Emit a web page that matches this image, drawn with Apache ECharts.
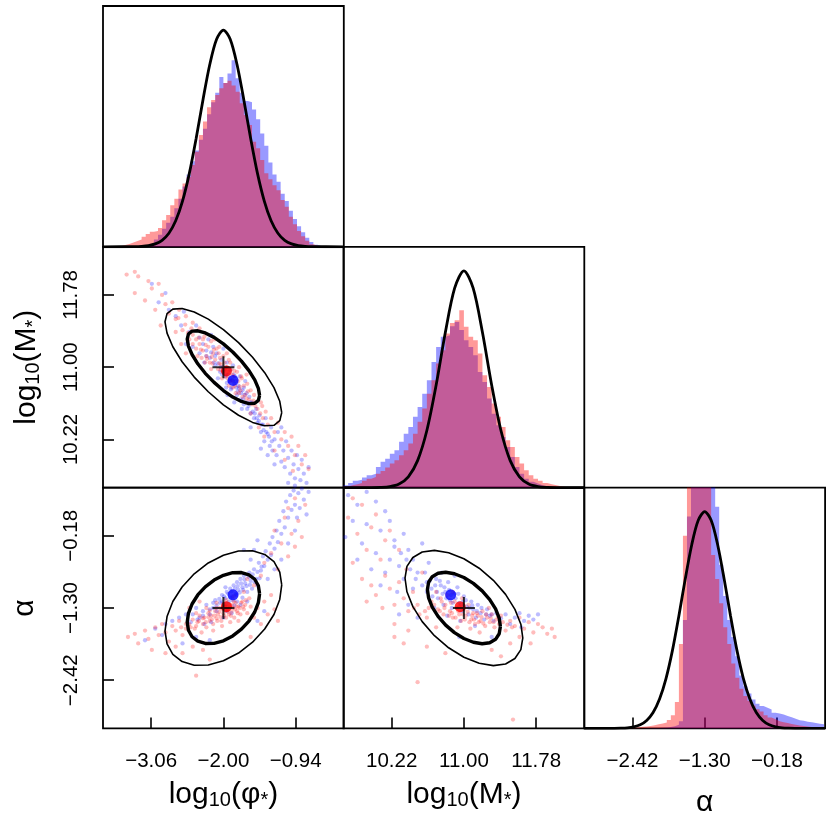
<!DOCTYPE html>
<html>
<head>
<meta charset="utf-8">
<title>Corner plot</title>
<script src="https://cdn.jsdelivr.net/npm/echarts@6/dist/echarts.min.js"></script>
<style>
  html, body { margin: 0; padding: 0; background: #fff; }
  #chart { width: 830px; height: 830px; }
</style>
</head>
<body>
<div id="chart"></div>
<script>
// ---- axes: ranges, ticks, labels ----
var phiRange = [-3.7667, -0.2333];
var mRange = [9.7, 12.3];
var aRange = [-3.1667, 0.5667];
var phiTicks = [-3.06, -2.00, -0.94];
var phiTickLabels = ['−3.06', '−2.00', '−0.94'];
var mTicks = [10.22, 11.00, 11.78];
var mTickLabels = ['10.22', '11.00', '11.78'];
var aTicks = [-2.42, -1.30, -0.18];
var aTickLabels = ['−2.42', '−1.30', '−0.18'];

// ---- histograms (height in % of panel), bins: start, width ----
var phiBins = [-3.56, 0.06];
var phiHistRed = [0.3,0.7,1.2,1.8,2.4,3.0,4.2,5.3,6.2,6.6,7.8,11,13.2,17.3,20,23.8,26.3,29,34,39.5,46.4,52,58,61,63,65.8,68,69,67,64.4,59.6,54.7,50.6,43.6,40.9,36,30.5,28.1,25.6,23.5,19.4,16.6,12.5,9.4,6.6,4.4,2.5,1.1,0.4,0.1];
var phiHistBlue = [0,0,0,0.1,0.2,0.4,0.6,1.0,1.6,3,5,7.5,10,12.5,16,20,25,30,35.5,40,44.5,49,55,60,64,70.5,68,72,77.5,70,64,60.5,60,57,53,47,42,35,30,27,22,19,15,11.5,8.5,6,3.8,2,0.8,0.3];

var mBins = [9.70, 0.05];
var mHistRed = [0.5,1,1.4,1.9,2.8,3.7,4.4,5.8,6.9,8.3,10,11.4,13.4,15.5,18.3,22.4,27.3,32.8,39,44.6,51.5,57,64,68.4,69.5,73.7,66.8,62.6,61.2,55.7,46.7,41.8,34.9,29.4,25.2,19.7,16.9,12.7,10,7.2,5.1,3.7,2.8,1.9,1.4,1,0.55,0.3,0.1,0.1];
var mHistBlue = [1,1.9,2.8,3.3,4.2,5.1,5.8,8.6,10.7,12,14.1,15.5,19,22.4,25.2,29.4,33.5,39,44.6,52.2,58.4,62.6,63.3,67,68.8,65.4,61.2,58.4,55,48,43.9,37,30.7,25.9,21,16.9,12.7,8.6,5.8,3.7,2.4,1.7,1,0.6,0.3,0.2,0.1,0.1,0,0];

var aBins = [-2.575, 0.0625];
var aHistRed = [0.1,0.2,0.3,0.5,0.7,0.8,1.0,1.3,1.7,2.0,2.5,3.5,5.5,11,35,80,125,140,135,130,120,105,72,62,52,42,35,27,21,16.5,13.5,11.5,9.5,8,7,5.5,4.5,3.8,3,2.6,2.2,1.8,1.5,1.2,1.0,0.8,0.6,0.5,0.4,0.3];
var aHistBlue = [0,0,0,0,0,0.1,0.1,0.2,0.2,0.3,0.4,0.6,0.9,1.5,3,45,88,130,140,140,135,125,105,92,68,55,45,38,30,22,17.5,14.5,12,10.2,9.3,8.6,7.8,6.5,6.2,5.8,5.1,4.6,4.0,3.4,3.2,2.8,2.6,2.2,1.9,1.7];

// ---- black model curves on the histograms ----
var phiCurveX = [-3.7667,-3.3,-3.2,-3.1,-3.0,-2.9,-2.8,-2.7,-2.6,-2.5,-2.4,-2.3,-2.2,-2.1,-2.0,-1.9,-1.8,-1.7,-1.6,-1.5,-1.4,-1.3,-1.2,-1.1,-1.0,-0.9,-0.8,-0.7,-0.2333];
var phiCurveY = [0,0.06,0.18,0.48,1.2,2.7,5.65,10.8,19,30.5,45,61,75.7,86.2,90,86.2,75.7,61,45,30.5,19,10.8,5.65,2.7,1.2,0.48,0.18,0.06,0];
var mCurveX = [9.7,10.0,10.1,10.2,10.3,10.4,10.5,10.6,10.7,10.8,10.9,11.0,11.1,11.2,11.3,11.4,11.5,11.6,11.7,11.8,11.9,12.0,12.3];
var mCurveY = [0,0.02,0.1,0.44,1.52,4.5,11.2,23.7,42.5,64.5,82.8,90,82.8,64.5,42.5,23.7,11.2,4.5,1.52,0.44,0.1,0.02,0];
var aCurveX = [-3.1667,-2.7,-2.6,-2.5,-2.4,-2.3,-2.2,-2.1,-2.0,-1.9,-1.8,-1.7,-1.6,-1.5,-1.4,-1.3,-1.2,-1.1,-1.0,-0.9,-0.8,-0.7,-0.6,-0.5,-0.4,-0.3,-0.2,-0.1,0.0,0.1,0.5667];
var aCurveY = [0,0.03,0.09,0.25,0.65,1.5,3.3,6.6,12.2,20.7,32.4,46.8,62.3,76.4,86.4,90,86.4,76.4,62.3,46.8,32.4,20.7,12.2,6.6,3.3,1.5,0.65,0.25,0.09,0.03,0];

// ---- contour ellipses ----
var phiMInner = [[-1.469,10.696],[-1.487,10.772],[-1.540,10.863],[-1.625,10.963],[-1.735,11.066],[-1.863,11.164],[-2.000,11.252],[-2.137,11.322],[-2.266,11.370],[-2.376,11.393],[-2.460,11.389],[-2.513,11.358],[-2.531,11.304],[-2.513,11.228],[-2.460,11.137],[-2.376,11.037],[-2.266,10.934],[-2.137,10.836],[-2.000,10.748],[-1.863,10.678],[-1.735,10.630],[-1.625,10.607],[-1.540,10.611],[-1.487,10.642],[-1.469,10.696]];
var phiMOuter = [[-1.144,10.510],[-1.173,10.632],[-1.258,10.779],[-1.394,10.941],[-1.572,11.107],[-1.778,11.265],[-2.000,11.406],[-2.222,11.519],[-2.428,11.596],[-2.606,11.633],[-2.742,11.627],[-2.827,11.578],[-2.857,11.490],[-2.827,11.368],[-2.742,11.221],[-2.606,11.059],[-2.428,10.893],[-2.222,10.735],[-2.000,10.594],[-1.778,10.481],[-1.572,10.404],[-1.394,10.367],[-1.258,10.373],[-1.173,10.422],[-1.144,10.510]];
var phiAInner = [[-1.469,-1.079],[-1.487,-0.955],[-1.540,-0.854],[-1.625,-0.785],[-1.735,-0.750],[-1.863,-0.753],[-2.000,-0.793],[-2.137,-0.867],[-2.266,-0.971],[-2.376,-1.098],[-2.460,-1.238],[-2.513,-1.383],[-2.531,-1.522],[-2.513,-1.645],[-2.460,-1.746],[-2.376,-1.815],[-2.266,-1.850],[-2.137,-1.848],[-2.000,-1.808],[-1.863,-1.733],[-1.735,-1.629],[-1.625,-1.502],[-1.540,-1.362],[-1.487,-1.217],[-1.469,-1.079]];
var phiAOuter = [[-1.144,-0.943],[-1.173,-0.743],[-1.258,-0.581],[-1.394,-0.469],[-1.572,-0.412],[-1.778,-0.417],[-2.000,-0.481],[-2.222,-0.602],[-2.428,-0.770],[-2.606,-0.974],[-2.742,-1.200],[-2.827,-1.433],[-2.857,-1.657],[-2.827,-1.857],[-2.742,-2.019],[-2.606,-2.131],[-2.428,-2.188],[-2.222,-2.183],[-2.000,-2.119],[-1.778,-1.998],[-1.572,-1.830],[-1.394,-1.626],[-1.258,-1.400],[-1.173,-1.167],[-1.144,-0.943]];
var mAInner = [[11.394,-1.588],[11.381,-1.456],[11.342,-1.313],[11.279,-1.169],[11.197,-1.034],[11.102,-0.918],[11.000,-0.827],[10.898,-0.769],[10.803,-0.746],[10.721,-0.762],[10.658,-0.814],[10.619,-0.900],[10.606,-1.012],[10.619,-1.144],[10.658,-1.287],[10.721,-1.431],[10.803,-1.566],[10.898,-1.682],[11.000,-1.773],[11.102,-1.831],[11.197,-1.854],[11.279,-1.838],[11.342,-1.786],[11.381,-1.700],[11.394,-1.588]];
var mAOuter = [[11.636,-1.765],[11.615,-1.551],[11.551,-1.321],[11.450,-1.089],[11.318,-0.871],[11.165,-0.683],[11.000,-0.537],[10.835,-0.443],[10.682,-0.407],[10.550,-0.432],[10.449,-0.516],[10.385,-0.654],[10.364,-0.835],[10.385,-1.049],[10.449,-1.279],[10.550,-1.511],[10.682,-1.729],[10.835,-1.917],[11.000,-2.063],[11.165,-2.157],[11.318,-2.193],[11.450,-2.168],[11.551,-2.084],[11.615,-1.946],[11.636,-1.765]];

// ---- markers: true value (cross), red and blue means  [phi, M, alpha] ----
var truth = [-2.00, 11.00, -1.30];
var redMean = [-1.955, 10.96, -1.28];
var blueMean = [-1.858, 10.857, -1.095];

// ---- sample clouds ----
var phiMRed = [[-3.42,12.00],[-3.30,12.03],[-3.25,11.98],[-3.10,11.93],[-3.05,11.85],[-3.30,11.80],[-3.15,11.72],[-2.95,11.90],[-2.90,11.78],[-2.85,11.68],[-3.00,11.62],[-2.80,11.58],[-2.75,11.70],[-2.70,11.52],[-2.92,11.45],[-2.65,11.62],
  [-2.60,11.40],[-2.55,11.55],[-2.50,11.30],[-2.45,11.48],[-2.62,11.25],[-2.40,11.20],[-2.35,11.42],[-2.55,11.15],[-2.30,11.30],[-2.70,11.38],
  [-2.40,11.30],[-2.35,11.25],[-2.30,11.18],[-2.28,11.33],[-2.25,11.12],[-2.22,11.22],[-2.20,11.05],[-2.18,11.28],[-2.15,11.15],[-2.12,11.08],[-2.10,11.20],[-2.08,10.98],[-2.05,11.10],[-2.03,11.03],[-2.00,10.95],[-2.00,11.12],[-1.98,11.05],[-1.96,10.90],[-1.95,11.00],[-1.93,10.95],[-1.90,10.85],[-1.90,11.05],[-1.88,10.98],[-1.85,10.90],[-1.83,10.80],[-1.80,10.95],[-1.78,10.85],[-1.75,10.75],[-1.73,10.88],[-1.70,10.80],[-1.68,10.70],[-1.65,10.82],[-1.62,10.65],[-1.60,10.75],[-1.58,10.60],[-2.32,11.10],[-2.18,10.98],[-2.06,11.22],[-1.95,11.15],[-1.86,10.78],[-1.72,10.68],[-2.45,11.35],[-2.38,11.12],[-2.27,11.05],[-2.13,11.30],[-2.02,10.88],[-1.92,10.80],[-1.82,10.72],[-1.77,11.00],[-1.66,10.92],
  [-2.45,11.25],[-2.47,11.42],[-2.36,11.32],[-2.33,11.19],[-2.26,11.24],[-2.24,11.09],[-2.16,11.04],[-2.14,11.19],[-2.17,11.11],[-2.06,11.04],[-2.04,10.97],[-2.07,11.15],[-1.97,10.98],[-1.94,10.88],[-1.92,11.08],[-1.86,10.85],[-1.84,10.96],[-1.87,10.92],[-1.76,10.79],[-1.74,10.90],[-1.77,10.72],[-1.64,10.74],[-1.66,10.66],[-1.56,10.64],[-1.53,10.58],[-1.46,10.50],[-1.43,10.58],[-2.56,11.46],[-2.52,11.37],[-2.66,11.53],
  [-1.55,10.70],[-1.50,10.55],[-1.45,10.62],[-1.42,10.45],[-1.38,10.52],[-1.35,10.38],[-1.30,10.45],[-1.25,10.30],[-1.20,10.40],[-1.15,10.22],[-1.10,10.30],[-1.05,10.15],[-1.00,10.25],[-0.95,10.05],[-0.90,10.15],[-0.85,9.95],[-0.80,10.05],[-0.75,9.90],[-1.25,10.10],[-1.10,10.00],[-0.98,9.88],[-1.40,10.25],[-1.60,10.50],[-1.48,10.35]];
var phiMBlue = [[-3.05,11.90],[-2.95,11.70],[-2.80,11.62],[-2.70,11.55],[-2.85,11.80],[-2.62,11.45],[-2.58,11.60],
  [-2.50,11.38],[-2.45,11.22],[-2.40,11.45],[-2.55,11.25],[-2.35,11.32],
  [-2.30,11.25],[-2.25,11.18],[-2.22,11.30],[-2.20,11.10],[-2.15,11.22],[-2.12,11.02],[-2.10,11.15],[-2.05,10.95],[-2.03,11.08],[-2.00,11.00],[-1.98,10.90],[-1.95,11.05],[-1.92,10.85],[-1.90,10.97],[-1.88,10.78],[-1.85,10.92],[-1.82,10.85],[-1.80,10.70],[-1.78,10.80],[-1.75,10.65],[-1.72,10.75],[-1.70,10.60],[-1.68,10.85],[-1.65,10.55],[-1.62,10.68],[-1.60,10.50],[-1.58,10.62],[-1.55,10.45],[-2.35,11.15],[-2.08,10.88],[-1.96,10.78],[-1.84,10.62],[-1.73,10.55],[-2.18,11.35],[-2.00,11.20],[-1.86,11.02],[-1.76,10.90],[-1.66,10.72],[-2.28,11.05],[-1.94,10.70],
  [-2.25,11.12],[-2.18,11.16],[-2.12,11.12],[-2.08,11.04],[-2.04,11.00],[-1.99,10.96],[-1.96,10.92],[-1.93,10.92],[-1.90,10.88],[-1.87,10.86],[-1.84,10.82],[-1.81,10.78],[-1.79,10.74],[-1.77,10.77],[-1.74,10.72],[-1.71,10.66],[-1.69,10.70],[-1.66,10.62],[-1.63,10.58],[-1.61,10.62],[-1.57,10.52],[-1.54,10.50],[-1.51,10.45],[-1.48,10.42],[-1.44,10.38],[-1.41,10.32],[-1.37,10.30],[-1.33,10.25],[-1.29,10.20],[-1.95,10.83],[-2.02,10.92],[-1.89,10.76],[-1.83,10.90],[-2.14,11.05],[-1.70,10.78],
  [-1.52,10.55],[-1.50,10.40],[-1.47,10.48],[-1.45,10.30],[-1.42,10.38],[-1.40,10.20],[-1.38,10.45],[-1.35,10.28],[-1.32,10.15],[-1.30,10.35],[-1.28,10.10],[-1.25,10.22],[-1.22,10.05],[-1.20,10.30],[-1.18,10.15],[-1.15,9.98],[-1.12,10.10],[-1.10,9.92],[-1.08,10.20],[-1.05,10.02],[-1.02,9.85],[-1.00,10.10],[-0.97,9.95],[-0.95,9.80],[-0.92,10.05],[-0.90,9.90],[-0.87,9.78],[-0.85,10.00],[-0.82,9.85],[-0.78,9.75],[-0.75,9.92],[-1.35,10.05],[-1.15,10.35],[-1.45,10.12],[-1.60,10.35],[-1.25,9.95],[-1.05,9.75],[-0.95,9.72]];

var phiARed = [[-3.40,-1.75],[-3.30,-1.70],[-3.25,-1.85],[-3.15,-1.65],[-3.10,-1.78],[-3.00,-1.60],[-2.95,-1.72],[-2.90,-1.55],[-2.85,-1.68],[-2.80,-1.82],[-2.75,-1.58],[-2.70,-1.65],[-2.65,-1.50],[-2.60,-1.72],[-2.55,-1.55],[-3.05,-1.95],[-2.85,-2.00],[-2.70,-1.90],
  [-2.50,-1.55],[-2.45,-1.48],[-2.42,-1.62],[-2.38,-1.52],[-2.35,-1.42],[-2.30,-1.55],[-2.28,-1.45],[-2.25,-1.60],[-2.22,-1.38],[-2.20,-1.50],[-2.18,-1.42],[-2.15,-1.55],[-2.12,-1.35],[-2.10,-1.46],[-2.08,-1.40],[-2.05,-1.30],[-2.03,-1.50],[-2.00,-1.38],[-1.98,-1.28],[-1.96,-1.45],[-1.94,-1.33],[-1.92,-1.40],[-1.90,-1.25],[-1.88,-1.36],[-1.86,-1.30],[-1.84,-1.45],[-1.82,-1.22],[-1.80,-1.35],[-1.78,-1.28],[-1.75,-1.40],[-1.72,-1.20],[-1.70,-1.32],[-1.68,-1.25],[-1.65,-1.38],[-1.62,-1.15],[-1.60,-1.28],[-2.40,-1.38],[-2.32,-1.68],[-2.15,-1.65],[-2.02,-1.58],[-1.90,-1.52],[-1.78,-1.50],[-2.25,-1.30],[-2.10,-1.22],[-1.96,-1.18],[-1.85,-1.12],[-1.70,-1.05],
  [-2.36,-1.50],[-2.30,-1.46],[-2.26,-1.52],[-2.22,-1.44],[-2.17,-1.48],[-2.13,-1.42],[-2.09,-1.50],[-2.06,-1.36],[-2.04,-1.44],[-2.01,-1.32],[-1.99,-1.42],[-1.97,-1.34],[-1.95,-1.28],[-1.93,-1.36],[-1.91,-1.30],[-1.89,-1.42],[-1.87,-1.26],[-1.83,-1.32],[-1.81,-1.28],[-1.79,-1.38],[-1.76,-1.30],[-1.74,-1.22],[-1.71,-1.28],[-1.67,-1.18],[-2.48,-1.60],[-2.55,-1.62],[-2.62,-1.60],[-2.40,-1.58],[-2.20,-1.34],[-2.00,-1.24],[-1.85,-1.20],[-2.10,-1.30],
  [-2.60,-2.00],[-2.45,-1.90],[-2.30,-1.95],[-2.20,-2.10],[-2.50,-1.30],[-2.35,-1.20],[-1.55,-1.45],[-1.50,-1.30],[-1.45,-1.55],[-1.40,-1.20],[-1.35,-1.40],[-1.30,-1.10],[-1.25,-1.32],[-1.20,-1.50],[-1.55,-0.95],[-1.45,-0.80],[-1.65,-0.85],[-2.40,-2.35],[-1.60,-1.75],
  [-1.40,-0.60],[-1.30,-0.45],[-1.20,-0.70],[-1.15,-0.30],[-1.05,-0.50],[-1.00,-0.15],[-0.95,-0.35],[-0.90,0.05],[-0.85,-0.20],[-1.10,0.10],[-0.80,0.30],[-1.25,-0.10],[-0.95,0.40],[-1.05,0.25]];
var phiABlue = [[-3.00,-1.62],[-2.85,-1.55],[-2.75,-1.50],[-2.65,-1.45],[-2.90,-1.72],[-2.55,-1.40],[-3.15,-1.80],
  [-2.45,-1.40],[-2.40,-1.30],[-2.35,-1.45],[-2.30,-1.35],[-2.25,-1.25],[-2.20,-1.40],[-2.15,-1.30],[-2.12,-1.18],[-2.10,-1.35],[-2.05,-1.22],[-2.02,-1.10],[-2.00,-1.28],[-1.97,-1.15],[-1.95,-1.05],[-1.92,-1.20],[-1.90,-1.00],[-1.87,-1.12],[-1.85,-0.95],[-1.82,-1.08],[-1.80,-0.90],[-1.78,-1.02],[-1.75,-0.85],[-1.72,-0.98],[-1.70,-0.80],[-1.68,-0.92],[-1.65,-1.05],[-1.62,-0.75],[-1.60,-0.88],[-1.58,-1.00],[-1.55,-0.70],[-1.52,-0.85],[-1.50,-0.95],[-2.18,-1.52],[-2.00,-1.45],[-1.88,-1.38],[-1.75,-1.25],[-1.65,-1.20],[-2.28,-1.55],[-1.95,-1.35],[-1.80,-1.20],
  [-2.20,-1.32],[-2.15,-1.22],[-2.10,-1.26],[-2.06,-1.16],[-2.02,-1.20],[-1.99,-1.12],[-1.96,-1.24],[-1.93,-1.08],[-1.90,-1.14],[-1.88,-1.04],[-1.86,-1.18],[-1.83,-1.00],[-1.81,-1.10],[-1.79,-0.96],[-1.76,-1.06],[-1.74,-0.92],[-1.71,-1.02],[-1.69,-0.86],[-1.66,-0.96],[-1.63,-0.82],[-1.61,-0.94],[-1.57,-0.78],[-1.54,-0.90],[-1.50,-0.74],[-1.47,-0.84],[-1.44,-0.66],[-2.30,-1.42],[-2.38,-1.48],[-2.48,-1.52],[-1.97,-0.98],[-1.84,-1.26],[-1.72,-1.14],
  [-1.48,-0.60],[-1.45,-0.72],[-1.42,-0.50],[-1.40,-0.65],[-1.38,-0.42],[-1.35,-0.55],[-1.32,-0.30],[-1.30,-0.48],[-1.28,-0.20],[-1.25,-0.38],[-1.22,-0.10],[-1.20,-0.28],[-1.18,0.05],[-1.15,-0.15],[-1.12,0.20],[-1.10,-0.05],[-1.08,0.35],[-1.05,0.10],[-1.02,0.45],[-1.00,0.22],[-0.97,0.52],[-0.95,0.30],[-0.92,0.10],[-0.90,0.48],[-0.88,0.25],[-0.85,0.55],[-0.82,0.38],[-0.78,0.15],[-0.75,0.50],[-1.60,-0.55],[-1.55,-0.40],[-1.50,-0.25],[-1.35,-0.85],[-1.25,-0.70],[-1.15,-0.55],[-1.05,-0.30],[-0.95,-0.10],[-1.70,-0.40],
  [-2.60,-1.85],[-2.40,-1.75],[-2.20,-1.80],[-1.50,-1.50],[-1.40,-1.35]];

var mARed = [[9.80,0.40],[9.75,0.10],[9.90,0.30],[10.05,0.15],[9.85,-0.15],[10.00,-0.05],[10.15,-0.25],[9.95,-0.40],[10.10,-0.55],[10.20,-0.10],[10.30,-0.40],[9.80,-0.60],
  [9.90,-0.85],[10.00,-0.95],[10.05,-1.10],[10.15,-0.80],[10.20,-1.00],[10.25,-1.25],[10.30,-0.90],[10.35,-1.15],[10.40,-1.35],[10.45,-1.05],[10.50,-1.25],[10.55,-0.75],[10.60,-1.45],[10.12,-1.30],[10.38,-0.70],[9.95,-1.20],[10.70,-1.60],[10.40,-1.65],[10.25,-1.55],
  [10.65,-1.20],[10.70,-1.05],[10.72,-1.32],[10.75,-1.15],[10.78,-1.40],[10.80,-1.25],[10.82,-1.10],[10.85,-1.35],[10.88,-1.45],[10.90,-1.20],[10.92,-1.30],[10.95,-1.40],[10.97,-1.50],[11.00,-1.32],[11.02,-1.42],[11.05,-1.25],[11.08,-1.48],[11.10,-1.38],[11.12,-1.55],[11.15,-1.42],[11.18,-1.50],[11.20,-1.35],[11.23,-1.58],[11.25,-1.45],[11.28,-1.52],[11.30,-1.40],[11.33,-1.60],[11.35,-1.48],[11.38,-1.55],[11.40,-1.42],[10.88,-1.05],[10.98,-1.15],[11.07,-1.62],[11.17,-1.68],[11.27,-1.30],[10.93,-1.60],[11.45,-1.65],[11.50,-1.50],
  [10.62,-1.30],[10.68,-1.25],[10.74,-1.35],[10.79,-1.30],[10.84,-1.42],[10.87,-1.38],[10.91,-1.45],[10.94,-1.35],[10.99,-1.40],[11.01,-1.48],[11.04,-1.36],[11.06,-1.52],[11.09,-1.42],[11.11,-1.48],[11.14,-1.38],[11.16,-1.52],[11.19,-1.44],[11.21,-1.54],[11.24,-1.40],[11.29,-1.46],[11.32,-1.52],[11.37,-1.44],[11.42,-1.52],[11.47,-1.56],[11.52,-1.60],[10.95,-1.28],[10.86,-1.22],[10.76,-1.20],[10.58,-1.35],[10.52,-1.40],[10.46,-1.30],
  [11.55,-1.58],[11.60,-1.45],[11.65,-1.62],[11.70,-1.52],[11.75,-1.68],[11.80,-1.55],[11.85,-1.60],[11.90,-1.70],[11.95,-1.62],[11.98,-1.75],[11.60,-1.75],[11.72,-1.85],[11.50,-1.85],
  [10.60,-1.90],[10.80,-2.00],[10.35,-1.85],[11.30,-1.95],[11.40,-2.05],[10.50,-2.45],[11.53,-3.03],[10.25,-1.75]];
var mABlue = [[9.75,0.45],[9.85,0.30],[9.95,0.50],[10.05,0.35],[10.15,0.20],[9.80,0.05],[9.95,0.00],[10.10,-0.10],[10.20,0.05],[10.25,-0.25],[10.35,-0.15],[10.40,-0.40],[9.90,-0.30],[10.05,-0.45],[10.20,-0.55],[10.30,-0.65],[10.45,-0.55],[10.50,-0.75],[10.35,-0.85],[10.15,-0.75],[10.00,-0.70],[9.85,-0.55],[10.55,-0.30],[10.62,-0.60],[10.10,-0.95],[10.28,-1.05],[9.72,-0.20],[10.45,-1.00],[10.60,-0.90],
  [10.65,-1.00],[10.70,-0.85],[10.72,-1.15],[10.75,-0.95],[10.78,-1.25],[10.80,-1.05],[10.83,-0.90],[10.85,-1.18],[10.87,-1.30],[10.90,-1.08],[10.93,-0.98],[10.95,-1.22],[10.98,-1.35],[11.00,-1.12],[11.03,-1.28],[11.05,-1.40],[11.08,-1.20],[11.10,-1.32],[11.13,-1.45],[11.15,-1.25],[11.18,-1.38],[11.22,-1.48],[11.25,-1.32],[11.28,-1.42],[11.32,-1.50],[11.35,-1.38],[11.40,-1.46],[11.45,-1.40],[11.50,-1.55],[10.68,-1.30],[10.82,-1.42],[10.96,-1.50],[11.12,-1.58],[10.76,-0.75],[10.90,-0.80],
  [10.55,-0.95],[10.60,-1.05],[10.63,-0.88],[10.66,-1.12],[10.69,-0.95],[10.71,-1.05],[10.74,-0.88],[10.77,-1.08],[10.79,-0.98],[10.81,-1.15],[10.84,-1.02],[10.86,-1.10],[10.88,-1.22],[10.91,-1.15],[10.94,-1.08],[10.97,-1.25],[10.99,-1.20],[11.02,-1.18],[11.06,-1.30],[11.09,-1.26],[11.14,-1.35],[11.19,-1.30],[11.24,-1.40],[11.30,-1.40],[10.48,-0.85],[10.42,-0.70],[10.38,-0.55],[10.32,-0.45],[10.25,-0.35],[10.58,-0.75],
  [11.55,-1.45],[11.60,-1.38],[11.65,-1.50],[11.70,-1.42],[11.75,-1.48],[11.62,-1.60],[11.80,-1.40],
  [10.50,-1.45],[10.40,-1.25],[10.95,-1.75],[11.30,-1.75],[10.30,-1.40]];

// ---- layout ----
var FONT = "'Liberation Sans', Arial, Helvetica, sans-serif";
var colLeft = [103, 343.5, 584.3];
var rowTop = [6, 246.8, 487.6];
var cell = 240.8;
var RED_FILL = 'rgba(255,0,0,0.4)';
var BLUE_FILL = 'rgba(0,0,255,0.4)';
var RED_DOT = 'rgba(255,0,0,0.33)';
var BLUE_DOT = 'rgba(0,0,255,0.33)';

var nameStyle = {
  color: '#000', fontFamily: FONT, fontSize: 30, lineHeight: 32,
  rich: {
    s: {fontFamily: FONT, fontSize: 20, color: '#000', verticalAlign: 'bottom', lineHeight: 20}
  }
};

function makeGrid(c, r) {
  return {left: colLeft[c], top: rowTop[r], width: cell, height: cell,
    show: true, borderColor: '#000', borderWidth: 1.8, backgroundColor: 'transparent'};
}

function tickLabel(v, ticks, labels) {
  var best = 0;
  for (var i = 1; i < ticks.length; i++) {
    if (Math.abs(ticks[i] - v) < Math.abs(ticks[best] - v)) best = i;
  }
  return labels[best];
}

function makeAxis(g, range, ticks, labels, name, isY, gap) {
  var ax = {
    type: 'value', gridIndex: g, min: range[0], max: range[1],
    axisLine: {show: false, onZero: false}, splitLine: {show: false},
    axisTick: {show: false}, axisLabel: {show: false}
  };
  if (ticks) {
    ax.axisTick = {show: true, inside: true, length: 11, customValues: ticks,
      lineStyle: {color: '#000', width: 1.6}};
    ax.axisLabel = {show: true, customValues: ticks, color: '#000', fontFamily: FONT, fontSize: 20.5,
      margin: isY ? 21 : 22, rotate: isY ? 90 : 0,
      formatter: function (v) { return tickLabel(v, ticks, labels); }};
  }
  if (name) {
    ax.name = name;
    ax.nameLocation = 'middle';
    ax.nameGap = gap;
    ax.nameTextStyle = nameStyle;
  }
  return ax;
}

function steps(bins, vals) {
  var pts = [];
  for (var i = 0; i < vals.length; i++) pts.push([bins[0] + i * bins[1], vals[i]]);
  pts.push([bins[0] + vals.length * bins[1], vals[vals.length - 1]]);
  return pts;
}

function zip(xs, ys) {
  return xs.map(function (x, i) { return [x, ys[i]]; });
}

function histSeries(g, pts, color) {
  return {type: 'line', xAxisIndex: g, yAxisIndex: g, data: pts, step: 'end', symbol: 'none',
    lineStyle: {width: 0, opacity: 0}, areaStyle: {color: color, opacity: 1}, silent: true, z: 2};
}

function lineSeries(g, pts, width, smooth) {
  return {type: 'line', xAxisIndex: g, yAxisIndex: g, data: pts, symbol: 'none', smooth: smooth || false,
    lineStyle: {color: '#000', width: width}, silent: true, z: 5};
}

function cloud(g, pts, color) {
  return {type: 'scatter', xAxisIndex: g, yAxisIndex: g, data: pts, symbolSize: 4.3,
    itemStyle: {color: color}, silent: true, z: 3};
}

function markers(g, ix, iy) {
  var plus = 'path://M-1,-11H1V-1H11V1H1V11H-1V1H-11V-1H-1Z';
  return [
    {type: 'scatter', xAxisIndex: g, yAxisIndex: g, data: [[redMean[ix], redMean[iy]]], symbolSize: 11,
      itemStyle: {color: '#ff0000'}, silent: true, z: 6},
    {type: 'scatter', xAxisIndex: g, yAxisIndex: g, data: [[blueMean[ix], blueMean[iy]]], symbolSize: 11,
      itemStyle: {color: '#0000ff'}, silent: true, z: 6},
    {type: 'scatter', xAxisIndex: g, yAxisIndex: g, data: [[truth[ix], truth[iy]]], symbol: plus, symbolSize: 22,
      itemStyle: {color: '#000'}, silent: true, z: 7}
  ];
}

var phiName = 'log{s|10}(φ{s|*})';
var mName = 'log{s|10}(M{s|*})';
var aName = 'α';

var option = {
  animation: false,
  backgroundColor: '#fff',
  grid: [makeGrid(0, 0), makeGrid(0, 1), makeGrid(1, 1), makeGrid(0, 2), makeGrid(1, 2), makeGrid(2, 2)],
  xAxis: [
    makeAxis(0, phiRange),
    makeAxis(1, phiRange),
    makeAxis(2, mRange),
    makeAxis(3, phiRange, phiTicks, phiTickLabels, phiName, false, 50),
    makeAxis(4, mRange, mTicks, mTickLabels, mName, false, 50),
    makeAxis(5, aRange, aTicks, aTickLabels, aName, false, 58)
  ],
  yAxis: [
    makeAxis(0, [0, 100]),
    makeAxis(1, mRange, mTicks, mTickLabels, mName, true, 60),
    makeAxis(2, [0, 100]),
    makeAxis(3, aRange, aTicks, aTickLabels, aName, true, 62),
    makeAxis(4, aRange),
    makeAxis(5, [0, 100])
  ],
  series: [].concat(
    // log phi histogram
    histSeries(0, steps(phiBins, phiHistBlue), BLUE_FILL),
    histSeries(0, steps(phiBins, phiHistRed), RED_FILL),
    lineSeries(0, zip(phiCurveX, phiCurveY), 2.8, 0.3),
    // log phi vs log M
    cloud(1, phiMBlue, BLUE_DOT),
    cloud(1, phiMRed, RED_DOT),
    lineSeries(1, phiMOuter, 1.6),
    lineSeries(1, phiMInner, 3.4),
    markers(1, 0, 1),
    // log M histogram
    histSeries(2, steps(mBins, mHistBlue), BLUE_FILL),
    histSeries(2, steps(mBins, mHistRed), RED_FILL),
    lineSeries(2, zip(mCurveX, mCurveY), 2.8, 0.3),
    // log phi vs alpha
    cloud(3, phiABlue, BLUE_DOT),
    cloud(3, phiARed, RED_DOT),
    lineSeries(3, phiAOuter, 1.6),
    lineSeries(3, phiAInner, 3.4),
    markers(3, 0, 2),
    // log M vs alpha
    cloud(4, mABlue, BLUE_DOT),
    cloud(4, mARed, RED_DOT),
    lineSeries(4, mAOuter, 1.6),
    lineSeries(4, mAInner, 3.4),
    markers(4, 1, 2),
    // alpha histogram
    histSeries(5, steps(aBins, aHistBlue), BLUE_FILL),
    histSeries(5, steps(aBins, aHistRed), RED_FILL),
    lineSeries(5, zip(aCurveX, aCurveY), 2.8, 0.3)
  )
};

var chart = echarts.init(document.getElementById('chart'));
chart.setOption(option);
</script>
</body>
</html>
